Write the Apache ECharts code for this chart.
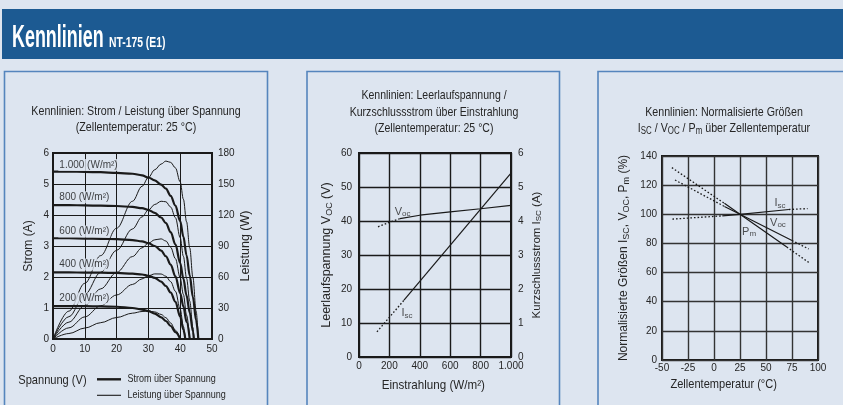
<!DOCTYPE html>
<html><head><meta charset="utf-8">
<script src="https://cdn.jsdelivr.net/npm/echarts@6/dist/echarts.min.js"></script>
<style>html,body{margin:0;padding:0;background:#dde5f0;overflow:hidden}#c{width:843px;height:405px}</style>
</head><body><div id="c"></div>
<script>
// ---------- data: Strom / Leistung über Spannung ----------
const irradianceLabels = ['1.000 (W/m²)', '800 (W/m²)', '600 (W/m²)', '400 (W/m²)', '200 (W/m²)'];
const labelAnchorV = [1.2, 1.2, 1.2, 1.2, 1.2];
const labelAnchorI = [5.61, 4.57, 3.47, 2.40, 1.31];

const v1000 = [0, 5, 10, 15, 20, 25, 28, 30, 32, 34, 35.5, 37, 38.5, 40, 41, 42, 43, 44, 45, 45.7];
const i1000 = [5.40, 5.40, 5.39, 5.38, 5.36, 5.33, 5.28, 5.21, 5.12, 4.98, 4.85, 4.62, 4.30, 3.80, 3.30, 2.70, 2.05, 1.35, 0.60, 0];
const p1000 = [0, 27, 53.9, 80.7, 107.2, 133.3, 147.8, 156.3, 163.8, 169.3, 172.2, 170.9, 165.6, 152, 135.3, 113.4, 88.2, 59.4, 27, 0];

const v800 = [0, 5, 10, 15, 20, 25, 28, 30, 32, 34, 35.5, 37, 38.5, 40, 41, 42, 43, 44, 44.3];
const i800 = [4.32, 4.32, 4.31, 4.30, 4.29, 4.26, 4.22, 4.16, 4.07, 3.92, 3.74, 3.45, 3.05, 2.45, 1.95, 1.40, 0.85, 0.25, 0];
const p800 = [0, 21.6, 43.1, 64.5, 85.8, 106.5, 118.2, 124.8, 130.2, 133.3, 132.8, 127.7, 117.4, 98, 80, 58.8, 36.6, 11, 0];

const v600 = [0, 5, 10, 15, 20, 25, 28, 30, 32, 34, 35.5, 37, 38.5, 40, 41, 42, 43];
const i600 = [3.25, 3.25, 3.24, 3.23, 3.22, 3.19, 3.15, 3.09, 3.00, 2.85, 2.67, 2.40, 2.02, 1.48, 1.05, 0.55, 0];
const p600 = [0, 16.3, 32.4, 48.5, 64.4, 79.8, 88.2, 92.7, 96, 96.9, 94.8, 88.8, 77.8, 59.2, 43.1, 23.1, 0];

const v400 = [0, 5, 10, 15, 20, 25, 28, 30, 32, 34, 35.5, 37, 38.5, 40, 41, 41.6];
const i400 = [2.15, 2.15, 2.14, 2.14, 2.13, 2.11, 2.08, 2.04, 1.97, 1.85, 1.71, 1.50, 1.20, 0.72, 0.30, 0];
const p400 = [0, 10.8, 21.4, 32.1, 42.6, 52.8, 58.2, 61.2, 63.0, 62.9, 60.7, 55.5, 46.2, 28.8, 12.3, 0];

const v200 = [0, 5, 10, 15, 20, 25, 28, 30, 32, 34, 35.5, 37, 38.5, 40];
const i200 = [1.06, 1.06, 1.06, 1.05, 1.04, 1.00, 0.95, 0.90, 0.82, 0.70, 0.58, 0.42, 0.22, 0];
const p200 = [0, 5.3, 10.6, 15.8, 20.8, 25.0, 26.6, 27.0, 26.2, 23.8, 20.6, 15.5, 8.5, 0];

// ---------- data: Leerlaufspannung / Kurzschlussstrom über Einstrahlung ----------
const vocDottedW = [125, 200, 270];
const vocDottedV = [38.3, 39.6, 40.7];
const vocSolidW = [270, 400, 600, 800, 1000];
const vocSolidV = [40.7, 41.7, 42.7, 43.6, 44.6];
const iscDottedW = [118, 296];
const iscDottedA = [0.74, 1.67];
const iscSolidW = [296, 1000];
const iscSolidA = [1.67, 5.41];
const midLabelVoc = [287, 42.8];
const midLabelIsc = [316, 1.30];

// ---------- data: normalisierte Größen über Zellentemperatur ----------
const tIscDot1 = [-40, 8],   iscDot1 = [96.7, 98.9];
const tIscSol = [8, 25, 72], iscSol = [98.9, 100, 103.3];
const tIscDot2 = [72, 90],   iscDot2 = [103.3, 103.9];
const tVocDot1 = [-37.5, 10], vocDot1 = [123.5, 105.4];
const tVocSol = [10, 25, 75], vocSol = [105.4, 100, 82];
const tVocDot2 = [75, 91],    vocDot2 = [82, 76.2];
const tPmDot1 = [-40.5, 10], pmDot1 = [132, 107.5];
const tPmSol = [10, 25, 70], pmSol = [107.5, 100, 77.5];
const tPmDot2 = [70, 91],    pmDot2 = [77.5, 67];
const tempLabelAnchors = [[63.5, 107.8, '{n|I}{s|sc}'], [61.5, 94.2, '{n|V}{s|oc}'], [33.7, 88, '{n|P}{s|m}']];

// ---------- styling ----------
const FONT = '"Liberation Sans",Arial,sans-serif';
const BG = '#dde5f0';
const INK = '#1a1a1a';
const TXT = '#262626';
const zip = (xs, ys) => xs.map((x, i) => [x, ys[i]]);
const subRich = (size) => ({
  n: { fontSize: size, fontFamily: FONT, color: TXT },
  s: { fontSize: Math.round(size * 0.72), fontFamily: FONT, color: TXT, padding: [Math.round(size * 0.45), 0, 0, 0] }
});
const lblRich = {
  n: { fontSize: 11, fontFamily: FONT, color: TXT },
  s: { fontSize: 8, fontFamily: FONT, color: TXT, padding: [5, 0, 0, 0] }
};

const chart = echarts.init(document.getElementById('c'), null, { renderer: 'canvas' });

const axisLabel = (m) => ({ fontSize: 10, fontFamily: FONT, color: TXT, margin: m });
const split = (w, c) => ({ show: true, lineStyle: { color: c, width: w } });

const series = [];
const ivSets = [[v1000, i1000, p1000], [v800, i800, p800], [v600, i600, p600], [v400, i400, p400], [v200, i200, p200]];
ivSets.forEach(([v, i, p]) => {
  series.push({ type: 'line', name: 'Strom über Spannung', xAxisIndex: 0, yAxisIndex: 0, data: zip(v, i),
    symbol: 'none', smooth: 0.35, smoothMonotone: 'x', color: INK, lineStyle: { color: INK, width: 2.2 }, z: 3, silent: true });
  series.push({ type: 'line', name: 'Leistung über Spannung', xAxisIndex: 0, yAxisIndex: 1, data: zip(v, p),
    symbol: 'none', smooth: 0.35, smoothMonotone: 'x', color: INK, lineStyle: { color: INK, width: 1 }, z: 3, silent: true });
});
series.push({ type: 'scatter', name: 'irr', xAxisIndex: 0, yAxisIndex: 0, symbolSize: 1, z: 6, silent: true,
  itemStyle: { color: 'rgba(0,0,0,0)' },
  data: irradianceLabels.map((t, k) => [labelAnchorV[k], labelAnchorI[k], t]),
  label: { show: true, position: 'right', distance: 1, formatter: (p) => p.data[2], fontSize: 10, fontFamily: FONT,
    color: '#111', backgroundColor: BG, padding: [1, 1, 1, 1] } });

const dotted = { type: [1.6, 2], width: 1.3, color: INK };
const solid = { width: 1.2, color: INK };
const ln = (xi, yi, data, style) => ({ type: 'line', xAxisIndex: xi, yAxisIndex: yi, data, symbol: 'none', lineStyle: style, z: 3, silent: true });
series.push(ln(1, 2, zip(vocDottedW, vocDottedV), dotted));
series.push(ln(1, 2, zip(vocSolidW, vocSolidV), solid));
series.push(ln(1, 3, zip(iscDottedW, iscDottedA), dotted));
series.push(ln(1, 3, zip(iscSolidW, iscSolidA), solid));
series.push({ type: 'scatter', xAxisIndex: 1, yAxisIndex: 2, symbolSize: 1, itemStyle: { color: 'rgba(0,0,0,0)' }, silent: true,
  data: [midLabelVoc], label: { show: true, position: 'inside', formatter: '{n|V}{s|oc}', rich: lblRich } });
series.push({ type: 'scatter', xAxisIndex: 1, yAxisIndex: 3, symbolSize: 1, itemStyle: { color: 'rgba(0,0,0,0)' }, silent: true,
  data: [midLabelIsc], label: { show: true, position: 'inside', formatter: '{n|I}{s|sc}', rich: lblRich } });

series.push(ln(2, 4, zip(tIscDot1, iscDot1), dotted));
series.push(ln(2, 4, zip(tIscSol, iscSol), solid));
series.push(ln(2, 4, zip(tIscDot2, iscDot2), dotted));
series.push(ln(2, 4, zip(tVocDot1, vocDot1), dotted));
series.push(ln(2, 4, zip(tVocSol, vocSol), solid));
series.push(ln(2, 4, zip(tVocDot2, vocDot2), dotted));
series.push(ln(2, 4, zip(tPmDot1, pmDot1), dotted));
series.push(ln(2, 4, zip(tPmSol, pmSol), solid));
series.push(ln(2, 4, zip(tPmDot2, pmDot2), dotted));
series.push({ type: 'scatter', xAxisIndex: 2, yAxisIndex: 4, symbolSize: 1, itemStyle: { color: 'rgba(0,0,0,0)' }, silent: true,
  data: tempLabelAnchors, label: { show: true, position: 'inside', formatter: (p) => p.data[2], rich: lblRich } });

const gridBox = { show: true, backgroundColor: 'transparent', borderColor: INK, borderWidth: 2, containLabel: false };
const yName = (size) => ({ fontFamily: FONT, fontSize: size, color: TXT, rich: subRich(size) });

// condensed text helper (graphic text, squeezed horizontally)
const ctext = (x, y, text, size, sx, align, extra) => Object.assign({
  type: 'text', x, y, scaleX: sx, silent: true,
  style: { text, font: size + 'px ' + FONT, fill: TXT, align: align || 'center', verticalAlign: 'middle' }
}, extra || {});

const option = {
  animation: false,
  backgroundColor: BG,
  textStyle: { fontFamily: FONT },
  grid: [
    Object.assign({ left: 53, top: 153, width: 159, height: 186 }, gridBox),
    Object.assign({ left: 359, top: 153, width: 152, height: 204 }, gridBox),
    Object.assign({ left: 662, top: 156, width: 156, height: 204 }, gridBox)
  ],
  xAxis: [
    { gridIndex: 0, type: 'value', min: 0, max: 50, interval: 10, axisLine: { show: false }, axisTick: { show: false },
      axisLabel: axisLabel(5), splitLine: split(1, INK) },
    { gridIndex: 1, type: 'value', min: 0, max: 1000, interval: 200, axisLine: { show: false }, axisTick: { show: false },
      axisLabel: Object.assign(axisLabel(4), { formatter: (v) => v === 1000 ? '1.000' : String(v) }), splitLine: split(1.4, INK) },
    { gridIndex: 2, type: 'value', min: -50, max: 100, interval: 25, axisLine: { show: false }, axisTick: { show: false },
      axisLabel: axisLabel(3), splitLine: split(1.4, '#333') }
  ],
  yAxis: [
    { gridIndex: 0, type: 'value', min: 0, max: 6, interval: 1, axisLine: { show: false }, axisTick: { show: false },
      axisLabel: axisLabel(4), splitLine: split(1, INK),
      name: 'Strom (A)', nameLocation: 'middle', nameGap: 18, nameTextStyle: yName(12) },
    { gridIndex: 0, type: 'value', position: 'right', min: 0, max: 180, interval: 30, axisLine: { show: false }, axisTick: { show: false },
      axisLabel: axisLabel(6), splitLine: { show: false },
      name: 'Leistung (W)', nameLocation: 'middle', nameGap: 27, nameTextStyle: yName(12.5) },
    { gridIndex: 1, type: 'value', min: 0, max: 60, interval: 10, axisLine: { show: false }, axisTick: { show: false },
      axisLabel: axisLabel(7), splitLine: split(1.4, INK),
      name: 'Leerlaufspannung {n|V}{s|OC} (V)', nameLocation: 'middle', nameGap: 25, nameTextStyle: yName(12.5) },
    { gridIndex: 1, type: 'value', position: 'right', min: 0, max: 6, interval: 1, axisLine: { show: false }, axisTick: { show: false },
      axisLabel: axisLabel(7), splitLine: { show: false },
      name: 'Kurzschlussstrom {n|I}{s|SC} (A)', nameLocation: 'middle', nameGap: 19, nameTextStyle: yName(11.5) },
    { gridIndex: 2, type: 'value', min: 0, max: 140, interval: 20, axisLine: { show: false }, axisTick: { show: false },
      axisLabel: axisLabel(5), splitLine: split(1.4, '#333'),
      name: 'Normalisierte Größen {n|I}{s|SC}, {n|V}{s|OC}, {n|P}{s|m} (%)', nameLocation: 'middle', nameGap: 31, nameTextStyle: yName(12) }
  ],
  graphic: [
    { type: 'rect', shape: { x: 2, y: 9, width: 845, height: 50 }, style: { fill: '#1c5a92' }, z: -10, silent: true },
    { type: 'text', x: 12, y: 38.5, scaleX: 0.56, silent: true, style: { text: 'Kennlinien', font: 'bold 32px ' + FONT, fill: '#ffffff', verticalAlign: 'middle' } },
    { type: 'text', x: 109, y: 43, scaleX: 0.74, silent: true, style: { text: 'NT-175 (E1)', font: 'bold 14px ' + FONT, fill: '#ffffff', verticalAlign: 'middle' } },
    { type: 'rect', shape: { x: 4.5, y: 71.5, width: 263, height: 360 }, style: { fill: 'none', stroke: '#5585bd', lineWidth: 1.6 }, z: -5, silent: true },
    { type: 'rect', shape: { x: 307, y: 71.5, width: 252.5, height: 360 }, style: { fill: 'none', stroke: '#5585bd', lineWidth: 1.6 }, z: -5, silent: true },
    { type: 'rect', shape: { x: 598, y: 71.5, width: 260, height: 360 }, style: { fill: 'none', stroke: '#5585bd', lineWidth: 1.6 }, z: -5, silent: true },
    // titles
    ctext(136, 111.5, 'Kennlinien: Strom / Leistung über Spannung', 13.5, 0.79),
    ctext(136, 127, '(Zellentemperatur: 25 °C)', 13.5, 0.79),
    ctext(434, 95.5, 'Kennlinien: Leerlaufspannung /', 13.5, 0.78),
    ctext(434, 112, 'Kurzschlussstrom über Einstrahlung', 13.5, 0.78),
    ctext(434, 128.5, '(Zellentemperatur: 25 °C)', 13.5, 0.78),
    ctext(724, 112, 'Kennlinien: Normalisierte Größen', 13.5, 0.79),
    { type: 'text', x: 724, y: 128.5, scaleX: 0.79, silent: true,
      style: { text: '{n|I}{s|SC} / {n|V}{s|OC} / {n|P}{s|m} über Zellentemperatur', font: '13.5px ' + FONT, fill: TXT,
        align: 'center', verticalAlign: 'middle', rich: subRich(13.5) } },
    // x-axis names
    ctext(18.3, 380, 'Spannung (V)', 13.5, 0.82, 'left'),
    ctext(433.3, 385, 'Einstrahlung (W/m²)', 13.5, 0.86),
    ctext(723.7, 384, 'Zellentemperatur (°C)', 13.5, 0.82),
    // legend
    { type: 'line', shape: { x1: 97, y1: 379.3, x2: 121, y2: 379.3 }, style: { stroke: INK, lineWidth: 2.4 }, silent: true },
    { type: 'line', shape: { x1: 97, y1: 395.3, x2: 121, y2: 395.3 }, style: { stroke: INK, lineWidth: 1.1 }, silent: true },
    ctext(127.5, 379.3, 'Strom über Spannung', 11, 0.82, 'left'),
    ctext(127.5, 395.3, 'Leistung über Spannung', 11, 0.82, 'left')
  ],
  series
};
chart.setOption(option);
</script></body></html>
